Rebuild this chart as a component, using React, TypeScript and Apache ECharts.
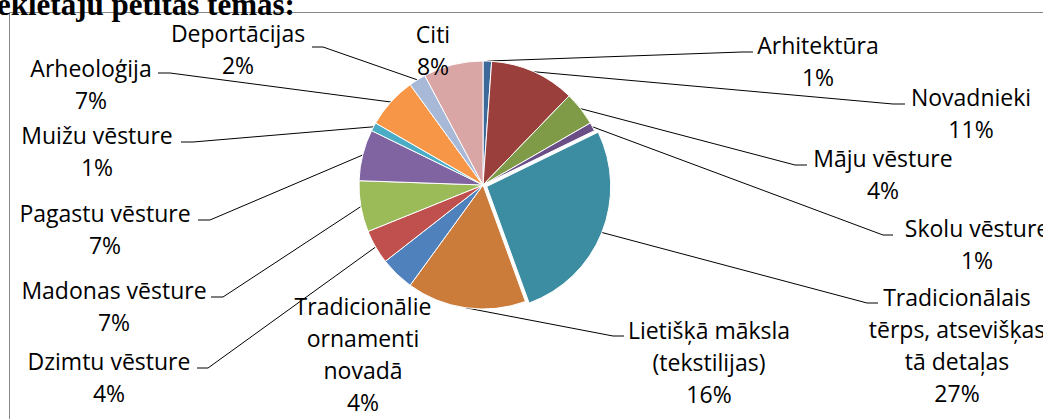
import React, { useEffect, useRef } from "react";
import * as echarts from "echarts";

const categories = [
  "Arhitektūra",
  "Novadnieki",
  "Māju vēsture",
  "Skolu vēsture",
  "Tradicionālais\ntērps, atsevišķas\ntā detaļas",
  "Lietišķā māksla\n(tekstilijas)",
  "Tradicionālie\nornamenti\nnovadā",
  "Dzimtu vēsture",
  "Madonas vēsture",
  "Pagastu vēsture",
  "Muižu vēsture",
  "Arheoloģija",
  "Deportācijas",
  "Citi",
];
const counts = [1, 10, 4, 1, 24, 14, 4, 4, 6, 6, 1, 6, 2, 7];
const colors = [
  "#3D6A9B", "#9B3F3C", "#7F9B48", "#6A4F86", "#3D8DA2", "#CC7C3A",
  "#4F81BD", "#C0504D", "#9BBB59", "#8064A2", "#4BACC6", "#F79646",
  "#A8B9D8", "#D9A5A5",
];
const explodedIndex = 4;
const titleText = "ekletāju pētītās tēmas:";

// label placement: text centre x, first line centre y, leader knee and end (null = no leader)
const labelPlace: { cx: number; y1: number; knee: number[] | null; end: number[] | null }[] = [
  { cx: 818, y1: 45, knee: [742, 52], end: [753, 52] },
  { cx: 971, y1: 97, knee: [893, 104], end: [905, 104] },
  { cx: 883, y1: 158, knee: [795, 165], end: [807, 165] },
  { cx: 977, y1: 228, knee: [883, 235], end: [893, 235] },
  { cx: 957, y1: 297, knee: [867, 303], end: [878, 303] },
  { cx: 709, y1: 330, knee: [613, 336], end: [624, 336] },
  { cx: 363, y1: 306, knee: null, end: null },
  { cx: 109, y1: 361, knee: [208, 368], end: [197, 368] },
  { cx: 114, y1: 290, knee: [223, 297], end: [211, 297] },
  { cx: 105, y1: 213, knee: [210, 220], end: [198, 220] },
  { cx: 97, y1: 135, knee: [193, 142], end: [181, 142] },
  { cx: 91, y1: 68, knee: [170, 73], end: [158, 73] },
  { cx: 238, y1: 33, knee: [323, 47], end: [312, 47] },
  { cx: 433, y1: 34, knee: null, end: null },
];

const LINE_H = 32;
const FONT = '"Open Sans"';
const CENTER = [483, 185];
const RADIUS = 124;
const EXPLODE = 4;

export default function App() {
  const ref = useRef<HTMLDivElement>(null);
  useEffect(() => {
    if (!ref.current) return;
    const chart = echarts.init(ref.current, null, { renderer: "svg" });
    const total = counts.reduce((a, b) => a + b, 0);
    const before = counts.slice(0, explodedIndex).reduce((a, b) => a + b, 0);
    const midFrac = (before + counts[explodedIndex] / 2) / total;
    const theta = midFrac * Math.PI * 2;
    const explodedCenter = [
      CENTER[0] + EXPLODE * Math.sin(theta),
      CENTER[1] - EXPLODE * Math.cos(theta),
    ];
    const transparent = "rgba(0,0,0,0)";

    const mainData = categories.map((name, i) => ({
      name,
      value: counts[i],
      itemStyle:
        i === explodedIndex
          ? { color: transparent, borderColor: transparent, borderWidth: 0 }
          : { color: colors[i] },
      labelLine: { show: labelPlace[i].end !== null },
    }));
    const explodedData = categories.map((name, i) => ({
      name,
      value: counts[i],
      itemStyle:
        i === explodedIndex
          ? { color: colors[i] }
          : { color: transparent, borderColor: transparent, borderWidth: 0 },
    }));

    chart.setOption({
      animation: false,
      backgroundColor: "#ffffff",
      graphic: [
        {
          type: "rect",
          shape: { x: 9.5, y: 12.5, width: 1200, height: 600 },
          style: { fill: "none", stroke: "#868686", lineWidth: 1 },
          silent: true,
        },
        {
          type: "text",
          x: -3,
          y: 20,
          style: {
            text: titleText,
            font: 'bold 31px "Liberation Serif"',
            fill: "#000",
            verticalAlign: "bottom",
          },
          silent: true,
        },
      ],
      series: [
        {
          type: "pie",
          center: CENTER,
          radius: RADIUS,
          startAngle: 90,
          clockwise: true,
          avoidLabelOverlap: false,
          emphasis: { disabled: true },
          itemStyle: { borderColor: "#fff", borderWidth: 1 },
          label: {
            show: true,
            position: "outside",
            color: "#000",
            fontFamily: FONT,
            fontSize: 23,
            lineHeight: LINE_H,
            align: "center",
            formatter: (p: any) => `${p.name}\n${Math.round((p.value / total) * 100)}%`,
          },
          labelLine: { show: true, lineStyle: { color: "#000", width: 1 } },
          labelLayout: (p: any) => {
            const L = labelPlace[p.dataIndex];
            const res: any = {
              x: L.cx,
              y: L.y1 - LINE_H / 2,
              align: "center",
              verticalAlign: "top",
            };
            if (L.end && p.labelLinePoints && p.labelLinePoints[0]) {
              res.labelLinePoints = [p.labelLinePoints[0], L.knee, L.end];
            }
            return res;
          },
          data: mainData,
        },
        {
          type: "pie",
          center: explodedCenter,
          radius: RADIUS,
          startAngle: 90,
          clockwise: true,
          silent: true,
          emphasis: { disabled: true },
          itemStyle: { borderColor: "#fff", borderWidth: 1 },
          label: { show: false },
          labelLine: { show: false },
          data: explodedData,
        },
      ],
    });
    return () => chart.dispose();
  }, []);
  return (
    <div
      ref={ref}
      style={{ position: "fixed", left: 0, top: 0, width: 1043, height: 419 }}
    />
  );
}
